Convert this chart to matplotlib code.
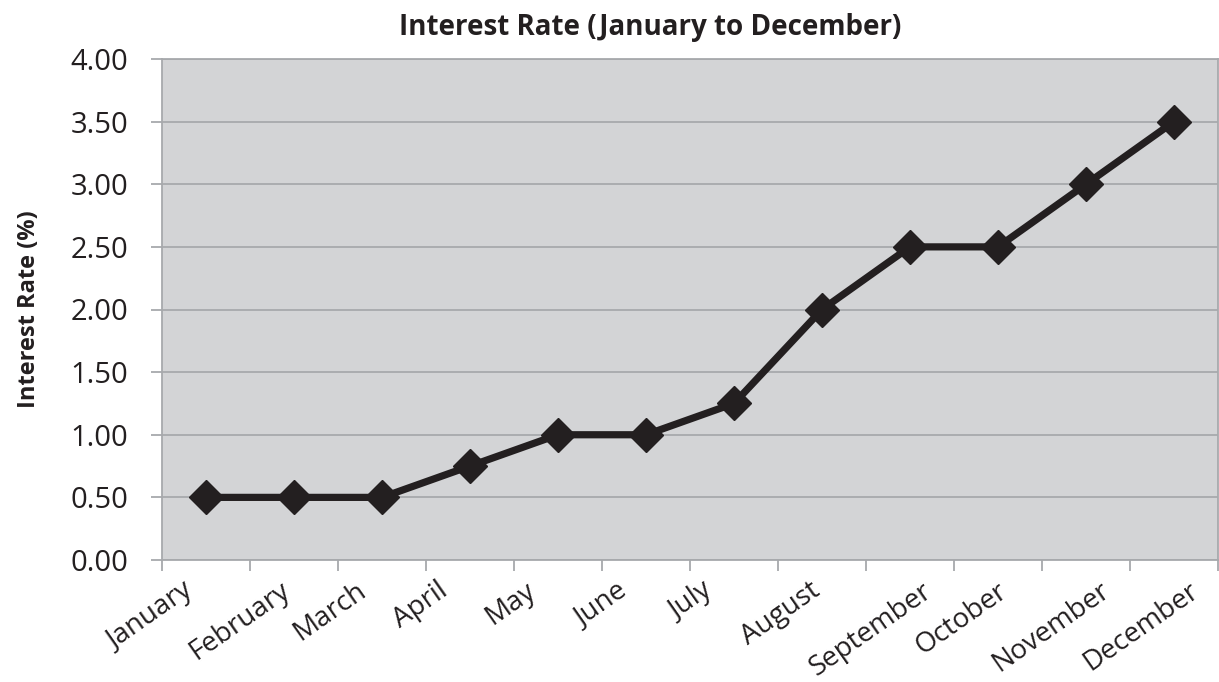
import matplotlib.pyplot as plt
import matplotlib.transforms as mtransforms

months = ['January', 'February', 'March', 'April', 'May', 'June',
          'July', 'August', 'September', 'October', 'November', 'December']
rate = [0.5, 0.5, 0.5, 0.75, 1.0, 1.0, 1.25, 2.0, 2.5, 2.5, 3.0, 3.5]
yticks = [0.0, 0.5, 1.0, 1.5, 2.0, 2.5, 3.0, 3.5, 4.0]

plt.rcParams['font.family'] = ['Open Sans', 'DejaVu Sans']

fig = plt.figure(figsize=(12.19, 6.82), dpi=100)
ax = fig.add_axes([162 / 1219, 1 - 560 / 682, (1218 - 162) / 1219, (560 - 59) / 682])
ax.set_facecolor('#d3d4d6')

x = list(range(len(months)))
ax.plot(x, rate, color='#231f20', lw=5.2, marker='D', ms=17, zorder=3)

ax.set_xlim(-0.5, len(months) - 0.5)
ax.set_ylim(0, 4)
ax.set_yticks(yticks)
ax.set_yticklabels([f'{v:.2f}' for v in yticks], fontsize=21, color='#231f20')
ax.yaxis.grid(True, color='#a7a9ac', lw=1.3)
ax.set_axisbelow(True)

# category ticks sit on the boundaries, labels near the centres (Excel style)
ax.set_xticks([i - 0.5 for i in range(len(months) + 1)])
ax.set_xticklabels([])
ax.tick_params(axis='x', length=8, color='#a7a9ac', width=1.3)
ax.tick_params(axis='y', length=8, color='#a7a9ac', width=1.3, pad=16.5)

for i, m in enumerate(months):
    off = mtransforms.ScaledTranslation(-0.56 + 0.021 * i, -0.17, fig.dpi_scale_trans)
    ax.text(i, 0, m, transform=ax.get_xaxis_transform() + off, rotation=35,
            ha='center', va='top', fontsize=20, color='#231f20')

for s in ['left', 'bottom', 'right', 'top']:
    ax.spines[s].set_color('#a7a9ac')
    ax.spines[s].set_linewidth(1.3)

ax.set_ylabel('Interest Rate (%)', fontsize=17, fontweight='bold', labelpad=21, color='#231f20')
fig.text(650 / 1219, 1 - 28 / 682, 'Interest Rate (January to December)', fontsize=20,
         fontweight='bold', ha='center', va='center', color='#231f20')

fig.savefig('out.png', dpi=100)
